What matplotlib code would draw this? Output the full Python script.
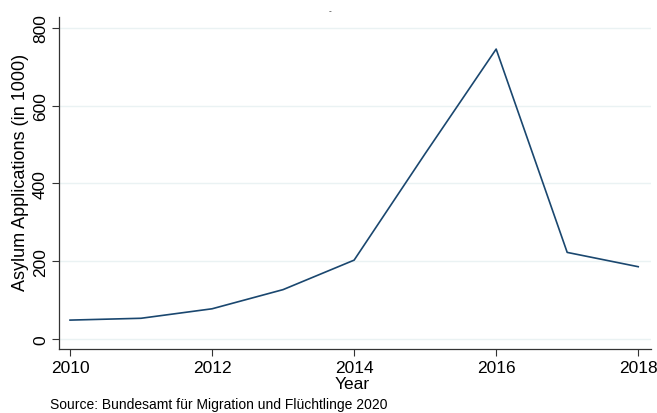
import matplotlib
matplotlib.use("Agg")
import matplotlib.pyplot as plt

plt.rcParams['font.family'] = ['Liberation Sans', 'DejaVu Sans']

years = [2010, 2011, 2012, 2013, 2014, 2015, 2016, 2017, 2018]
applications = [48.6, 53.3, 77.7, 127.0, 202.8, 476.6, 745.5, 222.7, 185.9]
xticks = [2010, 2012, 2014, 2016, 2018]
yticks = [0, 200, 400, 600, 800]

fig = plt.figure(figsize=(6.57, 4.14), dpi=100)
ax = fig.add_axes([59/657, 1 - 350/414, (651 - 59)/657, (350 - 18)/414])

ax.plot(years, applications, color='#1A476F', linewidth=1.2)

ax.set_xlim(2009.845, 2018.18)
ax.set_ylim(-25.7, 828)
ax.set_xticks(xticks)
ax.set_yticks(yticks)
ax.set_xticklabels([str(x) for x in xticks], fontsize=12.5)
ax.set_yticklabels([str(y) for y in yticks], fontsize=12.5, rotation=90, va='center')
ax.tick_params(direction='out', length=5, width=0.8, color='#333333', pad=3)
ax.grid(axis='y', color='#EAF2F3', linewidth=1)
ax.set_axisbelow(True)
for s in ['top', 'right']:
    ax.spines[s].set_visible(False)
for s in ['left', 'bottom']:
    ax.spines[s].set_color('#333333')
    ax.spines[s].set_linewidth(0.9)

ax.set_xlabel('Year', fontsize=12.5, va='center')
ax.xaxis.set_label_coords((352 - 59)/592, (350 - 385)/332)
ax.set_ylabel('Asylum Applications (in 1000)', fontsize=13, va='center')
ax.yaxis.set_label_coords((20 - 59)/592, (350 - 172)/332)

fig.text(330/657, 1 - 12/414, '-', fontsize=6, ha='center', va='center', color='#222222')
fig.text(50/657, 1 - 405/414, 'Source: Bundesamt für Migration und Flüchtlinge 2020',
         fontsize=10, ha='left', va='center')

fig.savefig('out.png', dpi=100)
